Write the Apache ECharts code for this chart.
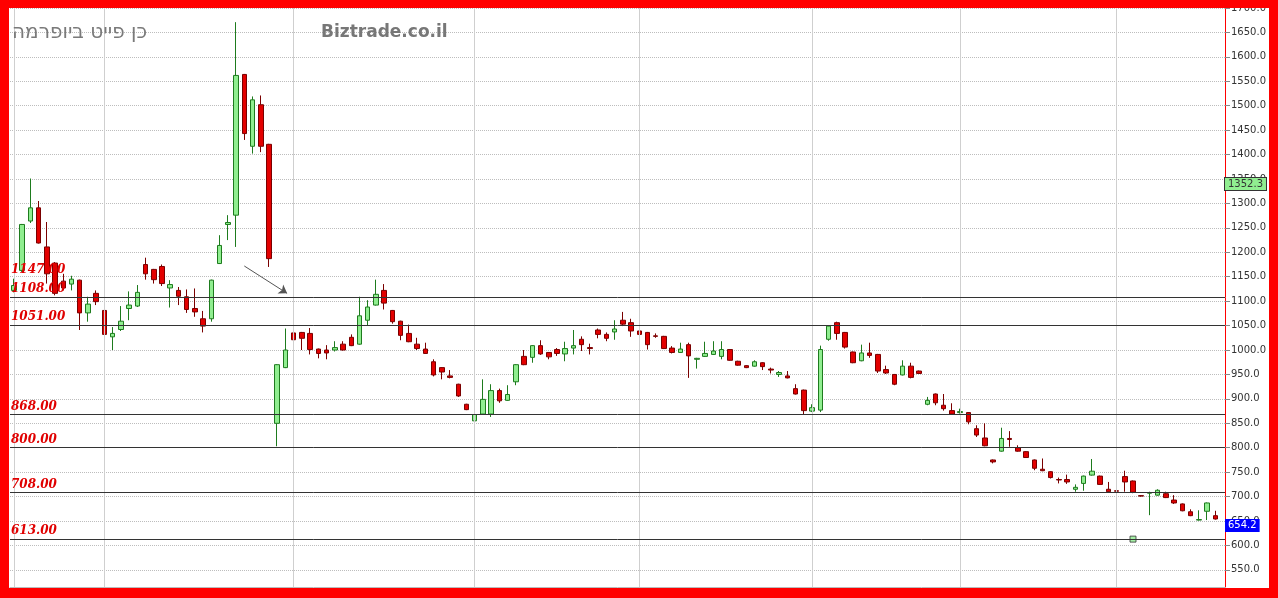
<!DOCTYPE html>
<html>
<head>
<meta charset="utf-8">
<script src="https://cdn.jsdelivr.net/npm/echarts@6/dist/echarts.min.js"></script>
<style>
  html, body { margin: 0; padding: 0; background: #fff; }
  #frame { position: absolute; left: 0; top: 0; width: 1278px; height: 598px; box-sizing: border-box;
           border-style: solid; border-color: #FF0000; border-width: 8px 9px 10px 9px; background: #fff; }
  #chart { width: 1260px; height: 580px; }
</style>
</head>
<body>
<div id="frame"><div id="chart"></div></div>
<script>
// ---- data ----
const tickValues = [550, 600, 650, 700, 750, 800, 850, 900, 950, 1000, 1050, 1100, 1150, 1200,
  1250, 1300, 1350, 1400, 1450, 1500, 1550, 1600, 1650, 1700];

const openV = [1122,1163,1264,1291,1211,1178,1141,1135,1143,1076,1116,1081,1027,1042,1085,1090,1175,1165,1171,1127,
  1122,1109,1085,1064,1064,1177,1257,1276,1564,1417,1502,1421,850,964,1035,1036,1034,1002,1000,1000,
  1012,1026,1012,1061,1092,1122,1081,1059,1034,1012,1002,976,964,947,930,889,855,869,869,917,
  897,935,987,985,1009,995,1001,992,1004,1022,1005,1041,1032,1037,1061,1056,1039,1036,1029,1028,
  1004,995,1011,981,987,991,987,1001,977,968,967,974,961,950,947,921,918,875,877,1022,
  1056,1036,996,978,994,991,960,950,949,967,957,889,910,887,876,872,872,839,820,775,
  793,819,800,792,775,756,751,735,735,715,727,744,742,715,712,741,732,702,707,703,
  706,693,685,669,652,670,661];
const closeV = [1132,1257,1291,1219,1156,1116,1127,1145,1076,1094,1099,1032,1034,1059,1092,1118,1156,1144,1136,1134,
  1110,1083,1078,1049,1143,1214,1261,1562,1443,1512,1417,1187,970,1000,1021,1024,1001,993,994,1005,
  1000,1009,1070,1088,1114,1096,1058,1030,1017,1003,993,949,955,944,906,878,868,899,917,896,
  909,970,970,1009,992,986,993,1003,1009,1011,1003,1032,1024,1043,1053,1039,1032,1011,1028,1003,
  995,1002,988,983,993,998,1001,979,969,964,976,966,959,954,943,910,876,882,1001,1049,
  1034,1006,974,994,989,957,953,930,967,944,952,897,892,880,869,874,853,826,804,771,
  819,817,793,780,758,753,739,734,730,719,742,752,725,710,711,730,709,701,708,713,
  698,687,671,661,653,687,654.2];
const lowV = [1118,1160,1260,1218,1136,1112,1122,1122,1041,1058,1092,1031,1000,1039,1061,1088,1144,1136,1131,1087,
  1092,1076,1068,1036,1058,1176,1225,1211,1430,1402,1405,1170,803,963,1020,1000,991,983,981,997,
  999,1008,1011,1051,1091,1083,1054,1020,1016,1000,992,946,940,942,904,877,854,868,863,892,
  896,928,969,974,990,981,988,977,991,998,991,1024,1018,1021,1049,1027,1028,1001,1025,1002,
  993,994,943,962,986,990,981,978,968,963,966,959,952,945,942,909,869,873,873,1019,
  1021,1003,973,977,984,953,951,928,948,942,951,887,887,876,868,870,848,822,803,768,
  792,802,792,779,754,752,737,727,726,710,712,743,724,709,707,710,707,700,662,702,
  697,685,670,660,651,652,653];
const highV = [1146,1258,1351,1305,1262,1180,1156,1152,1144,1109,1122,1082,1047,1090,1120,1133,1189,1166,1175,1143,
  1129,1124,1126,1080,1144,1235,1276,1671,1565,1519,1521,1422,971,1044,1044,1037,1045,1003,1010,1018,
  1018,1032,1109,1102,1144,1135,1082,1060,1052,1025,1015,981,965,959,931,890,869,940,930,921,
  928,971,1000,1010,1020,996,1004,1017,1041,1028,1013,1044,1036,1061,1078,1064,1049,1037,1034,1029,
  1008,1015,1015,984,1017,1018,1018,1002,978,969,979,975,964,957,957,930,919,889,1009,1051,
  1058,1037,997,1011,1015,992,968,951,979,974,958,904,911,910,891,880,873,846,850,776,
  841,834,805,793,776,778,752,739,745,725,743,777,743,730,720,753,733,703,710,715,
  710,703,686,674,672,688,671];

const monthStarts = [0, 11, 34, 56, 76, 97, 115, 134];     // candle index of vertical month lines
const levelLines = [1108, 1051, 868, 800, 708, 613];         // drawn support / resistance lines
const levelLabelOnly = [1147];                               // labelled level without a line
const axisBoxGreen = 1352.3;
const lastPrice = 654.2;
const lowMarker = [[136, 613]];
const arrowFrom = [28, 1172];
const arrowTo = [33.2, 1116];

// ---- build ----
const candles = openV.map((o, i) => [i, o, closeV[i], lowV[i], highV[i]]);
const CLEAR = 'rgba(0,0,0,0)';

const levelLabel = {
  show: true, position: 'insideStartTop', distance: [1, 2],
  formatter: p => Number(p.value).toFixed(2),
  color: '#E00000', fontStyle: 'italic', fontWeight: 'bold',
  fontFamily: 'DejaVu Serif', fontSize: 12
};

const bgMarkData = [];
monthStarts.forEach(v => bgMarkData.push({ xAxis: v, lineStyle: { color: '#cfcfcf', width: 1, type: 'solid' }, label: { show: false } }));
levelLines.forEach(v => bgMarkData.push({ yAxis: v, lineStyle: { color: '#333', width: 1, type: 'solid' }, label: levelLabel }));
levelLabelOnly.forEach(v => bgMarkData.push({ yAxis: v, lineStyle: { color: CLEAR, width: 0 }, label: levelLabel }));
bgMarkData.push([{ coord: arrowFrom, symbol: 'none' }, { coord: arrowTo, symbol: 'arrow', symbolSize: 8 }]);

const chart = echarts.init(document.getElementById('chart'), null, { renderer: 'canvas' });
chart.setOption({
  animation: false,
  backgroundColor: '#fff',
  title: [
    { text: 'כן פייט ביופרמה', left: 3, top: 15, padding: 0,
      textStyle: { color: '#7a7a7a', fontSize: 20, fontWeight: 'normal', fontFamily: 'DejaVu Sans' } },
    { text: 'Biztrade.co.il', left: 312, top: 16, padding: 0,
      textStyle: { color: '#777', fontSize: 17, fontWeight: 'bold', fontFamily: 'DejaVu Sans' } }
  ],
  grid: { left: 1, right: 44, top: 0, bottom: 1, containLabel: false, outerBoundsMode: 'none' },
  xAxis: {
    type: 'value', min: -0.474, max: 147.18,
    axisLine: { show: true, onZero: false, lineStyle: { color: '#bbb' } },
    axisTick: { show: false }, axisLabel: { show: false }, splitLine: { show: false }
  },
  yAxis: {
    type: 'value', position: 'right', min: 515, max: 1700, scale: true,
    axisLine: { show: true, onZero: false, lineStyle: { color: '#FF0000', width: 1 } },
    axisTick: { show: true, length: 5, lineStyle: { color: '#888' }, customValues: tickValues },
    axisLabel: { show: true, margin: 6, color: '#333', fontSize: 10, fontFamily: 'DejaVu Sans',
      customValues: tickValues, formatter: v => Number(v).toFixed(1) },
    splitLine: { show: true, lineStyle: { color: '#bdbdbd', type: [1, 1], width: 1 } }
  },
  series: [
    {
      type: 'line', data: [], z: 1, silent: true,
      markLine: { silent: true, symbol: 'none', animation: false, data: bgMarkData,
        lineStyle: { color: '#555', width: 1, type: 'solid' } }
    },
    {
      type: 'candlestick', z: 3, barWidth: 5,
      encode: { x: 0, y: [1, 2, 3, 4] },
      data: candles,
      itemStyle: { color: '#90EE90', color0: '#E30000', borderColor: '#1E7B1E', borderColor0: '#7A0000', borderWidth: 1 }
    },
    {
      type: 'scatter', z: 4, data: lowMarker, symbol: 'rect', symbolSize: 6,
      itemStyle: { color: '#90EE90', borderColor: '#333', borderWidth: 1 },
      markLine: {
        silent: true, symbol: 'none', animation: false,
        data: [
          { yAxis: axisBoxGreen, lineStyle: { color: CLEAR, width: 0 },
            label: { show: true, position: 'end', distance: 0, verticalAlign: 'top', align: 'left',
              formatter: axisBoxGreen.toFixed(1), backgroundColor: '#90EE90', borderColor: '#333', borderWidth: 1,
              color: '#333', fontSize: 10, fontFamily: 'DejaVu Sans', padding: [1, 3, 0, 3], lineHeight: 11 } },
          { yAxis: lastPrice, lineStyle: { color: CLEAR, width: 0 },
            label: { show: true, position: 'end', distance: 0, verticalAlign: 'top', align: 'left',
              formatter: lastPrice.toFixed(1), backgroundColor: '#0000FF',
              color: '#fff', fontSize: 10, fontFamily: 'DejaVu Sans', padding: [1, 3, 1, 3], lineHeight: 11 } }
        ]
      }
    }
  ]
});
</script>
</body>
</html>
